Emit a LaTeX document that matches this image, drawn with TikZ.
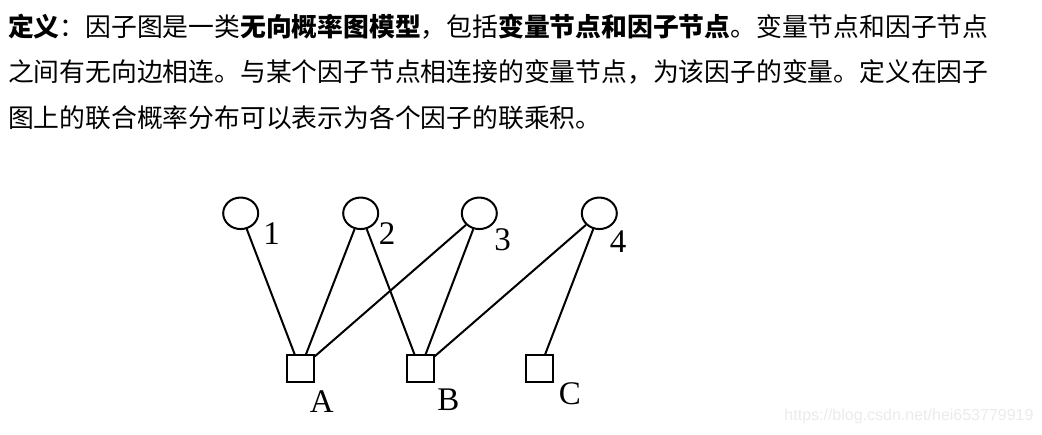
\documentclass[tikz,border=0pt]{standalone}
\usepackage{fontspec}
\setmainfont{Liberation Serif}
\newfontfamily\cjk{Noto Sans CJK SC}
\newfontfamily\wmfont{Liberation Sans}
\usetikzlibrary{positioning,shapes.geometric}

\begin{document}
\begin{tikzpicture}[x=1pt,y=-1pt,
  txt/.style={anchor=base west,inner sep=0pt,font=\cjk\fontsize{25.8}{30}\selectfont},
  var/.style={draw,ellipse,line width=2pt,minimum width=35pt,minimum height=31.5pt,inner sep=0pt},
  fac/.style={draw,rectangle,line width=2pt,minimum size=27pt,inner sep=0pt},
  lbl/.style={inner sep=0pt,font=\fontsize{33}{36}\selectfont},
  edge/.style={line width=2pt}]
  \useasboundingbox (0,0) rectangle (1042,435);
  \node[txt] (l1) at (8,36.5) {{\bfseries 定义}：因子图是一类{\bfseries 无向概率图模型}，包括{\bfseries 变量节点和因子节点}。变量节点和因子节点};
  \node[txt] (l2) at (8,82) {之间有无向边相连。与某个因子节点相连接的变量节点，为该因子的变量。定义在因子};
  \node[txt] (l3) at (8,127.5) {图上的联合概率分布可以表示为各个因子的联乘积。};
  \foreach \i/\x in {1/240.7,2/360.7,3/479.3,4/599.3}
    \node[var] (v\i) at (\x,213.3) {};
  \foreach \f/\x in {A/300.3,B/420,C/539.5}
    \node[fac] (f\f) at (\x,369) {};
  \foreach \v/\f in {1/A,2/A,2/B,3/A,3/B,4/B,4/C}
    \draw[edge] (v\v) -- (f\f);
  \node[lbl] (n1) at (271.6,234) {1};
  \node[lbl] (n2) at (387,233.5) {2};
  \node[lbl] (n3) at (502.5,239.5) {3};
  \node[lbl] (n4) at (618,241.5) {4};
  \node[lbl] (nA) at (321.7,401.7) {A};
  \node[lbl] (nB) at (448.3,400) {B};
  \node[lbl] (nC) at (570,393.3) {C};
  \node[inner sep=0pt,text=black!8,font=\wmfont\fontsize{16}{18}\selectfont] (wm) at (909,416.5) {https://blog.csdn.net/hei653779919};
\end{tikzpicture}
\end{document}
